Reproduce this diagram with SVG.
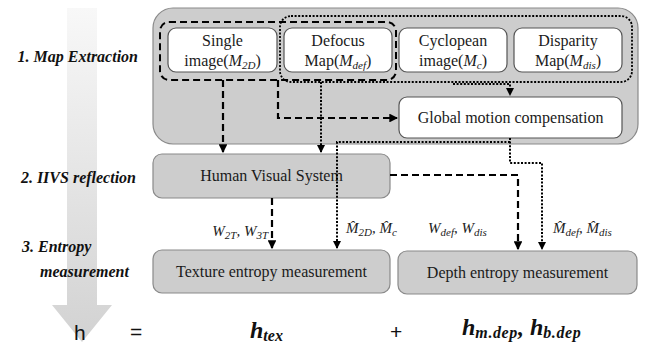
<svg xmlns="http://www.w3.org/2000/svg" width="645" height="347" viewBox="0 0 645 347">
  <style>
    .serif { font-family: "Liberation Serif", "Times New Roman", serif; fill: #1a1a1a; }
    .box-text { font-size: 16px; text-anchor: middle; }
    .stage { font-family: "Liberation Serif", serif; font-size: 16px; font-weight: bold; font-style: italic; fill: #111; }
    .it { font-style: italic; }
    .white-box { fill: #ffffff; stroke: #555555; stroke-width: 1.2; }
    .gray-box { fill: #cdcdcd; stroke: #8a8a8a; stroke-width: 1.2; }
    .dash { fill: none; stroke: #000; stroke-width: 2.2; stroke-dasharray: 7 4; }
    .dot { fill: none; stroke: #000; stroke-width: 2; stroke-dasharray: 2 1.6; }
    .dash-frame { fill: none; stroke: #000; stroke-width: 2; stroke-dasharray: 7 4; }
    .dot-frame { fill: none; stroke: #000; stroke-width: 1.8; stroke-dasharray: 2 1.6; }
    .lbl { font-family: "Liberation Serif", serif; font-size: 15px; font-style: italic; fill: #222; }
    .eq { font-family: "Liberation Serif", serif; font-size: 24px; font-weight: bold; font-style: italic; fill: #111; }
    .op { font-family: "Liberation Sans", Arial, sans-serif; font-size: 21px; fill: #111; }
  </style>
  <defs>
    <linearGradient id="flowGrad" x1="0" y1="0" x2="0" y2="1">
      <stop offset="0" stop-color="#f8f8f8"/>
      <stop offset="1" stop-color="#d2d2d2"/>
    </linearGradient>
    <marker id="head" viewBox="0 0 8 8" refX="7" refY="4" markerWidth="4" markerHeight="4" orient="auto" markerUnits="strokeWidth">
      <path d="M0,0 L8,4 L0,8 Z" fill="#000"/>
    </marker>
  </defs>

  <!-- process-flow arrow behind the stage labels -->
  <path d="M67,8 H97 V305 H112 L82,342 L52,305 H67 Z" fill="url(#flowGrad)"/>

  <!-- stage labels -->
  <text class="stage" x="138" y="62" text-anchor="end">1. Map Extraction</text>
  <text class="stage" x="136" y="183" text-anchor="end">2. IIVS reflection</text>
  <text class="stage" x="22" y="252">3. Entropy</text>
  <text class="stage" x="40" y="277">measurement</text>

  <!-- map extraction panel -->
  <g id="map-extraction">
    <rect x="153" y="8" width="485" height="136" rx="20" class="gray-box"/>
  </g>

  <g id="single-image">
    <rect x="168" y="28" width="109" height="44" rx="8" class="white-box"/>
    <text class="serif box-text" x="222.5" y="46">Single</text>
    <text class="serif box-text" x="222.5" y="66">image(<tspan class="it">M</tspan><tspan class="it" font-size="11" dy="3">2D</tspan><tspan dy="-3">)</tspan></text>
  </g>

  <g id="defocus-map">
    <rect x="284" y="28" width="108" height="44" rx="8" class="white-box"/>
    <text class="serif box-text" x="338" y="46">Defocus</text>
    <text class="serif box-text" x="338" y="66">Map(<tspan class="it">M</tspan><tspan class="it" font-size="11" dy="3">def</tspan><tspan dy="-3">)</tspan></text>
  </g>

  <g id="cyclopean-image">
    <rect x="399" y="28" width="108" height="44" rx="8" class="white-box"/>
    <text class="serif box-text" x="453" y="46">Cyclopean</text>
    <text class="serif box-text" x="453" y="66">image(<tspan class="it">M</tspan><tspan class="it" font-size="11" dy="3">c</tspan><tspan dy="-3">)</tspan></text>
  </g>

  <g id="disparity-map">
    <rect x="514" y="28" width="108" height="44" rx="8" class="white-box"/>
    <text class="serif box-text" x="568" y="46">Disparity</text>
    <text class="serif box-text" x="568" y="66">Map(<tspan class="it">M</tspan><tspan class="it" font-size="11" dy="3">dis</tspan><tspan dy="-3">)</tspan></text>
  </g>

  <g id="global-motion-compensation">
    <rect x="399" y="97" width="223" height="41" rx="8" class="white-box"/>
    <text class="serif box-text" x="510.5" y="123">Global motion compensation</text>
  </g>

  <g id="human-visual-system">
    <rect x="153" y="154" width="237" height="44" rx="9" class="gray-box"/>
    <text class="serif box-text" x="271.5" y="181">Human Visual System</text>
  </g>

  <g id="texture-entropy">
    <rect x="153" y="250" width="237" height="43" rx="9" class="gray-box"/>
    <text class="serif box-text" x="271.5" y="277">Texture entropy measurement</text>
  </g>

  <g id="depth-entropy">
    <rect x="398" y="251" width="239" height="43" rx="9" class="gray-box"/>
    <text class="serif box-text" x="517.5" y="278">Depth entropy measurement</text>
  </g>

  <!-- connectors -->
  <g id="connectors">
    <!-- grouping frames -->
    <rect x="160" y="22" width="236" height="58" rx="9" class="dash-frame"/>
    <rect x="280" y="16" width="352" height="66" rx="11" class="dot-frame"/>

    <!-- texture maps to HVS / motion compensation -->
    <path d="M223,80 V152" class="dash" marker-end="url(#head)"/>
    <path d="M278,80 V118 H397" class="dash" marker-end="url(#head)"/>
    <path d="M321,82 V152" class="dot" marker-end="url(#head)"/>
    <path d="M453,84 H510 V95" class="dot" marker-end="url(#head)"/>

    <!-- compensated maps to entropy measurement -->
    <path d="M510,142 H337 V248" class="dot" marker-end="url(#head)"/>
    <path d="M510,138 V163 H542 V249" class="dot" marker-end="url(#head)"/>

    <!-- HVS weights -->
    <path d="M272,198 V248" class="dash" marker-end="url(#head)"/>
    <path d="M390,175 H518 V249" class="dash" marker-end="url(#head)"/>
  </g>

  <!-- connector labels -->
  <text class="lbl" x="268" y="236" text-anchor="end">W<tspan font-size="11" dy="3">2T</tspan><tspan dy="-3">, W</tspan><tspan font-size="11" dy="3">3T</tspan></text>
  <text class="lbl" x="346" y="233">M&#770;<tspan font-size="11" dy="3">2D</tspan><tspan dy="-3">, M&#770;</tspan><tspan font-size="11" dy="3">c</tspan></text>
  <text class="lbl" x="428" y="233">W<tspan font-size="11" dy="3">def</tspan><tspan dy="-3">, W</tspan><tspan font-size="11" dy="3">dis</tspan></text>
  <text class="lbl" x="553" y="233">M&#770;<tspan font-size="11" dy="3">def</tspan><tspan dy="-3">, M&#770;</tspan><tspan font-size="11" dy="3">dis</tspan></text>

  <!-- entropy equation -->
  <text class="op" x="74" y="340">h</text>
  <text class="op" x="130" y="339">=</text>
  <text class="eq" x="250" y="338">h<tspan font-size="16" dy="3">tex</tspan></text>
  <text class="op" x="390" y="339">+</text>
  <text class="eq" x="462" y="335">h<tspan font-size="16" dy="3" letter-spacing="0.6">m.dep</tspan><tspan dy="-3">,  h</tspan><tspan font-size="16" dy="3" letter-spacing="0.6">b.dep</tspan></text>
</svg>
